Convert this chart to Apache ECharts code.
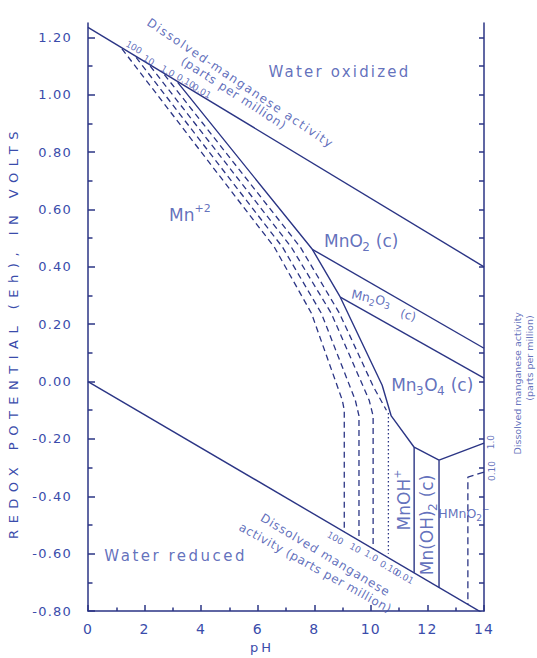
<!DOCTYPE html>
<html><head><meta charset="utf-8">
<script src="https://cdn.jsdelivr.net/npm/echarts@6/dist/echarts.min.js"></script>
<style>html,body{margin:0;padding:0;background:#fff}#c{width:537px;height:658px}</style>
</head><body><div id="c"></div>
<script>
// ---------- data ----------
const xTicks = [0, 2, 4, 6, 8, 10, 12, 14];
const yMajor = [-0.8, -0.6, -0.4, -0.2, 0, 0.2, 0.4, 0.6, 0.8, 1.0, 1.2];
const yTickLabels = ['-0.80','-0.60','-0.40','-0.20','0.00','0.20','0.40','0.60','0.80','1.00','1.20'];
const yMinor = [-0.7, -0.5, -0.3, -0.1, 0.1, 0.3, 0.5, 0.7, 0.9, 1.1];
const rightTicks = [-0.7, -0.6, -0.5, -0.4, -0.3, -0.2, -0.1, 0, 0.1, 0.2, 0.3, 0.4, 0.5, 0.6, 0.7, 0.8, 0.9, 1.0, 1.1, 1.2];
const concLabels = ['100', '10', '1.0', '0.10', '0.01'];

const upperWaterPH = [0, 14];
const upperWaterEh = [1.235, 0.40];
const lowerWaterPH = [0, 14];
const lowerWaterEh = [0.00, -0.81];

// solid boundary (0.01 ppm) Mn+2 / oxides
const mnBoundaryPH = [3.17, 7.93, 8.92, 10.40, 10.72, 11.53, 12.41, 14.0];
const mnBoundaryEh = [1.043, 0.461, 0.294, -0.013, -0.12, -0.229, -0.274, -0.215];
const mnO2Mn2O3PH = [7.93, 14];
const mnO2Mn2O3Eh = [0.461, 0.116];
const mn2O3Mn3O4PH = [8.92, 14];
const mn2O3Mn3O4Eh = [0.294, 0.012];
const mnOH2LeftPH = [11.53, 11.53];
const mnOH2LeftEh = [-0.229, -0.667];
const mnOH2RightPH = [12.41, 12.41];
const mnOH2RightEh = [-0.274, -0.718];

// dashed boundaries for other dissolved-manganese activities
const dash100PH = [1.2, 6.59, 7.90, 8.99, 9.06, 9.06];
const dash100Eh = [1.16, 0.468, 0.238, -0.065, -0.10, -0.525];
const dash10PH = [1.7, 6.88, 8.25, 9.45, 9.58, 9.58];
const dash10Eh = [1.13, 0.468, 0.238, -0.065, -0.12, -0.555];
const dash1PH = [2.2, 7.19, 8.60, 9.94, 10.08, 10.08];
const dash1Eh = [1.10, 0.468, 0.238, -0.065, -0.12, -0.585];
const dash01PH = [2.7, 7.51, 8.89, 10.10, 10.55];
const dash01Eh = [1.07, 0.468, 0.238, -0.02, -0.10];
const dotMnOHPH = [10.62, 10.62];
const dotMnOHEh = [-0.11, -0.60];
const hmno2DashPH = [14.0, 13.43, 13.43];
const hmno2DashEh = [-0.316, -0.333, -0.777];

// ---------- styling ----------
const TXT = '#3a4cab';
const LN = '#2b3585';
const FONT = 'DejaVu Sans';

function pairs(ph, eh) { return ph.map((x, i) => [x, eh[i]]); }
function lineSeries(ph, eh, type, width) {
  return { type: 'line', data: pairs(ph, eh), symbol: 'none', silent: true, clip: true,
    lineStyle: { color: LN, width: width || 1.4, type: type || 'solid' }, z: 3 };
}

const richStyles = {
  m: { fontSize: 17, lineHeight: 24, color: TXT, fontFamily: FONT },
  sb: { fontSize: 12, lineHeight: 12, verticalAlign: 'bottom', color: TXT, fontFamily: FONT },
  sp: { fontSize: 11, lineHeight: 12, verticalAlign: 'top', color: TXT, fontFamily: FONT },
  s: { fontSize: 12.5, lineHeight: 18, color: TXT, fontFamily: FONT },
  ss: { fontSize: 9, lineHeight: 9, verticalAlign: 'bottom', color: TXT, fontFamily: FONT },
  sx: { fontSize: 9, lineHeight: 9, verticalAlign: 'top', color: TXT, fontFamily: FONT }
};

const annotations = [
  { text: 'Water oxidized', at: [8.89, 1.078], size: 15 },
  { text: 'Water reduced', at: [3.10, -0.608], size: 15 },
  { text: '{m|Mn}{sp|+2}', at: [3.60, 0.58], rich: true },
  { text: '{m|MnO}{sb|2}{m| (c)}', at: [9.66, 0.489], rich: true },
  { text: '{s|Mn}{ss|2}{s|O}{ss|3}', at: [10.01, 0.291], rich: true, rot: -12 },
  { text: '(c)', at: [11.32, 0.231], size: 12, rot: -15 },
  { text: '{m|Mn}{sb|3}{m|O}{sb|4}{m| (c)}', at: [12.17, -0.013], rich: true },
  { text: '{m|MnOH}{sp|+}', at: [11.18, -0.413], rich: true, rot: 90 },
  { text: '{m|Mn(OH)}{sb|2}{m| (c)}', at: [11.99, -0.50], rich: true, rot: 90 },
  { text: '{s|HMnO}{ss|2}{sx|−}', at: [13.29, -0.459], rich: true },
  { text: 'Dissolved-manganese activity', at: [5.39, 1.04], size: 12, rot: -34 },
  { text: '(parts per million)', at: [5.15, 1.005], size: 12, rot: -33 },
  { text: 'Dissolved manganese', at: [8.39, -0.605], size: 12, rot: -31 },
  { text: 'activity (parts per million)', at: [8.04, -0.650], size: 12, rot: -29 },
  { text: 'Dissolved manganese activity', at: [15.2, -0.006], size: 9.5, rot: 90 },
  { text: '(parts per million)', at: [15.6, 0.082], size: 9.5, rot: 90 },
  { text: concLabels[0], at: [1.62, 1.165], size: 9, rot: -30 },
  { text: concLabels[1], at: [2.15, 1.12], size: 9, rot: -30 },
  { text: concLabels[2], at: [2.82, 1.082], size: 9, rot: -30 },
  { text: concLabels[3], at: [3.46, 1.047], size: 9, rot: -30 },
  { text: concLabels[4], at: [4.02, 1.012], size: 9, rot: -30 },
  { text: concLabels[0], at: [8.74, -0.546], size: 9, rot: -30 },
  { text: concLabels[1], at: [9.45, -0.581], size: 9, rot: -30 },
  { text: concLabels[2], at: [10.01, -0.608], size: 9, rot: -30 },
  { text: concLabels[3], at: [10.65, -0.65], size: 9, rot: -30 },
  { text: concLabels[4], at: [11.18, -0.681], size: 9, rot: -30 },
  { text: concLabels[2], at: [14.25, -0.211], size: 9, rot: 90 },
  { text: concLabels[3], at: [14.28, -0.312], size: 9, rot: 90 }
];

const chart = echarts.init(document.getElementById('c'), null, { renderer: 'svg' });

const axisLineStyle = { color: LN, width: 1.5 };
const option = {
  animation: false,
  backgroundColor: '#ffffff',
  textStyle: { fontFamily: FONT },
  grid: { left: 88, right: 53, top: 23, bottom: 47, containLabel: false, outerBoundsMode: 'none' },
  xAxis: [{
    type: 'value', min: 0, max: 14, interval: 2,
    axisLine: { show: true, onZero: false, lineStyle: axisLineStyle },
    axisTick: { show: true, inside: true, length: 6, lineStyle: axisLineStyle },
    minorTick: { show: true, splitNumber: 2, length: 3.5, lineStyle: axisLineStyle },
    axisLabel: { color: TXT, fontSize: 14, margin: 11, fontFamily: FONT,
      formatter: v => String(xTicks[xTicks.indexOf(v)]) },
    splitLine: { show: false }, minorSplitLine: { show: false },
    name: 'pH', nameLocation: 'middle', nameGap: 28,
    nameTextStyle: { color: TXT, fontSize: 13, fontFamily: FONT, padding: [0, 48, 0, 0] }
  }],
  yAxis: [{
    type: 'value', min: -0.8, max: 1.25, position: 'left', offset: 0,
    axisLine: { show: true, onZero: false, lineStyle: axisLineStyle },
    axisTick: { show: true, inside: true, length: 7, lineStyle: axisLineStyle, customValues: yMajor },
    axisLabel: { color: TXT, fontSize: 13, margin: 16, fontFamily: FONT, customValues: yMajor,
      formatter: v => { let best = 0; yMajor.forEach((m, i) => { if (Math.abs(m - v) < Math.abs(yMajor[best] - v)) best = i; }); return yTickLabels[best]; } },
    splitLine: { show: false },
    name: 'REDOX POTENTIAL (Eh), IN VOLTS', nameLocation: 'middle', nameGap: 68, nameRotate: 90,
    nameTextStyle: { color: TXT, fontSize: 13, fontFamily: FONT, padding: [0, 30, 0, 0] }
  }, {
    type: 'value', min: -0.8, max: 1.25, position: 'left', offset: 0,
    axisLine: { show: false, onZero: false },
    axisTick: { show: true, inside: true, length: 4.5, lineStyle: axisLineStyle, customValues: yMinor },
    axisLabel: { show: false }, splitLine: { show: false }
  }, {
    type: 'value', min: -0.8, max: 1.25, position: 'right', offset: 0,
    axisLine: { show: true, onZero: false, lineStyle: axisLineStyle },
    axisTick: { show: true, inside: true, length: 5, lineStyle: axisLineStyle, customValues: rightTicks },
    axisLabel: { show: false }, splitLine: { show: false }
  }],
  series: [
    lineSeries(upperWaterPH, upperWaterEh),
    lineSeries(lowerWaterPH, lowerWaterEh),
    lineSeries(mnBoundaryPH, mnBoundaryEh),
    lineSeries(mnO2Mn2O3PH, mnO2Mn2O3Eh),
    lineSeries(mn2O3Mn3O4PH, mn2O3Mn3O4Eh),
    lineSeries(mnOH2LeftPH, mnOH2LeftEh),
    lineSeries(mnOH2RightPH, mnOH2RightEh),
    lineSeries(dash100PH, dash100Eh, [6, 4], 1.3),
    lineSeries(dash10PH, dash10Eh, [6, 4], 1.3),
    lineSeries(dash1PH, dash1Eh, [6, 4], 1.3),
    lineSeries(dash01PH, dash01Eh, [6, 4], 1.3),
    lineSeries(dotMnOHPH, dotMnOHEh, [1.5, 2.5], 1.3),
    lineSeries(hmno2DashPH, hmno2DashEh, [7, 4], 1.3),
    {
      type: 'scatter', silent: true, clip: false, symbolSize: 0.1,
      itemStyle: { color: 'rgba(0,0,0,0)' }, z: 5,
      data: annotations.map(a => ({
        value: a.at,
        label: {
          show: true, position: 'inside', align: 'center', verticalAlign: 'middle',
          rotate: a.rot || 0, color: TXT, fontFamily: FONT, fontSize: a.size || 14,
          formatter: () => a.text,
          rich: a.rich ? richStyles : undefined
        }
      }))
    }
  ]
};

const spacingByText = {
  'Water oxidized': 2.2, 'Water reduced': 2.5, 'REDOX POTENTIAL (Eh), IN VOLTS': 6.5, 'pH': 3,
  'Dissolved-manganese activity': 1.5, '(parts per million)': 0.8, 'Dissolved manganese': 0.9,
  'activity (parts per million)': 0.6
};
function applySpacing() {
  document.querySelectorAll('#c svg text').forEach(t => {
    const s = t.textContent.trim();
    const fs = parseFloat(getComputedStyle(t).fontSize) || 12;
    let sp = spacingByText[s];
    if (sp == null && /^[-0-9.]+$/.test(s) && fs >= 12) sp = 1.2;
    if (sp != null && fs >= 11) t.setAttribute('letter-spacing', sp);
  });
}
chart.on('finished', () => requestAnimationFrame(applySpacing));
chart.setOption(option);
setTimeout(applySpacing, 60);
setTimeout(applySpacing, 300);
</script>
</body></html>
